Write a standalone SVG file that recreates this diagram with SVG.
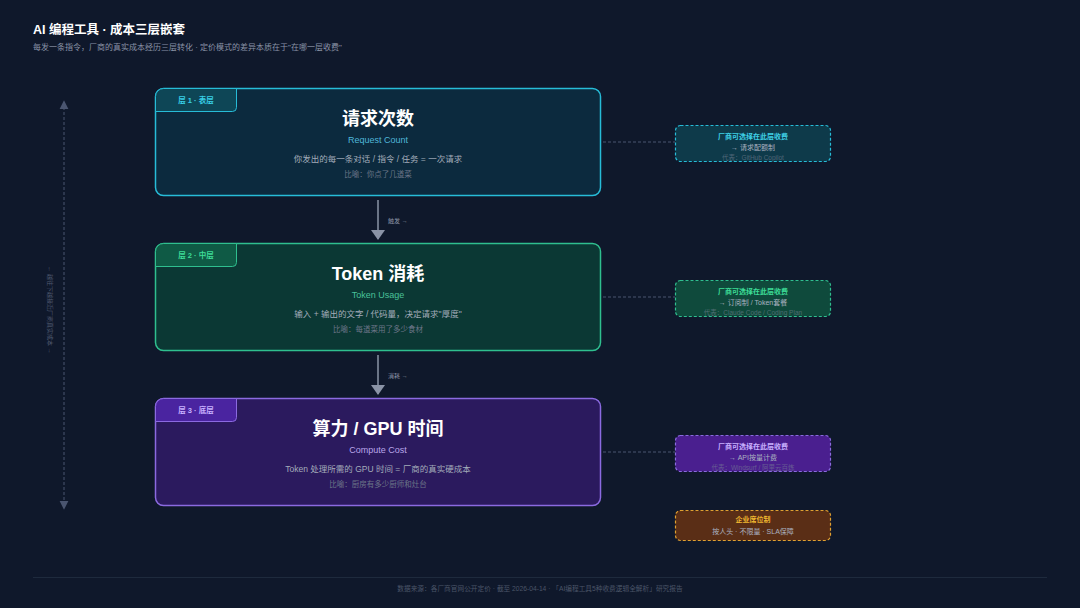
<svg xmlns="http://www.w3.org/2000/svg" width="1080" height="608" viewBox="0 0 1080 608">
<defs>
<marker id="ah2" viewBox="0 0 10 10" refX="8" refY="5" markerWidth="9" markerHeight="10" orient="auto-start-reverse" markerUnits="userSpaceOnUse">
<path d="M0,0 L10,5 L0,10 z" fill="#4a5570"/>
</marker>
<marker id="ah3" viewBox="0 0 10 10" refX="9" refY="5" markerWidth="10" markerHeight="14" orient="auto" markerUnits="userSpaceOnUse" preserveAspectRatio="none">
<path d="M0,0 L10,5 L0,10 z" fill="#8a93a6"/>
</marker>
</defs>
<style>
text{font-family:"Liberation Sans","Noto Sans CJK SC",sans-serif}
.t{font-size:18px;font-weight:bold;fill:#ffffff;text-anchor:middle}
.en{font-size:9px;text-anchor:middle}
.d{font-size:8.5px;fill:#a3acba;text-anchor:middle}
.m{font-size:7.5px;fill:#6b7588;text-anchor:middle}
.tag{font-size:7.5px;text-anchor:middle;font-weight:bold}
.rh{font-size:7px;font-weight:bold;text-anchor:middle}
.rs{font-size:7px;fill:#aab2c0;text-anchor:middle}
.rr{font-size:6.5px;fill:#7a8496;text-anchor:middle;opacity:0.6}
.lbl{font-size:6px;fill:#8a93a6}
.dash{stroke-dasharray:3 2;stroke-width:1.2}
</style>
<rect width="1080" height="608" fill="#0f182b"/>
<text x="33" y="34" font-size="12.5" font-weight="bold" fill="#ffffff">AI 编程工具 · 成本三层嵌套</text>
<text x="33" y="50" font-size="8" fill="#8a93a6">每发一条指令，厂商的真实成本经历三层转化 · 定价模式的差异本质在于"在哪一层收费"</text>

<g id="axis">
<line x1="64" y1="102" x2="64" y2="508" stroke="#4a5570" stroke-width="1" stroke-dasharray="3 2" marker-start="url(#ah2)" marker-end="url(#ah2)"/>
<text x="48" y="310" font-size="6" fill="#4f5a70" text-anchor="middle" transform="rotate(90 48 310)">← 越往下越接近厂商真实成本 →</text>
</g>

<g id="connectors">
<line x1="378" y1="200" x2="378" y2="239" stroke="#8a93a6" stroke-width="1.5" marker-end="url(#ah3)"/>
<text class="lbl" x="388" y="223">触发 →</text>
<line x1="378" y1="355" x2="378" y2="394" stroke="#8a93a6" stroke-width="1.5" marker-end="url(#ah3)"/>
<text class="lbl" x="388" y="378">消耗 →</text>
<line x1="603" y1="142" x2="675" y2="142" stroke="#4a5570" stroke-dasharray="3 2"/>
<line x1="603" y1="297" x2="675" y2="297" stroke="#4a5570" stroke-dasharray="3 2"/>
<line x1="603" y1="452" x2="675" y2="452" stroke="#4a5570" stroke-dasharray="3 2"/>
</g>

<g id="layer1">
<rect x="155.5" y="88.5" width="445" height="107" rx="8" fill="#0c2a3e" stroke="#27bcd8" stroke-width="1.5"/>
<path d="M155.5,111.5 V96.5 a8,8 0 0 1 8,-8 H236.5 V107.5 a4,4 0 0 1 -4,4 Z" fill="#0e4656" stroke="#27bcd8" stroke-width="1"/>
<text class="tag" x="196" y="103" fill="#38cfe6">层 1 · 表层</text>
<text class="t" x="378" y="125">请求次数</text>
<text class="en" x="378" y="143" fill="#4fb6d8">Request Count</text>
<text class="d" x="378" y="162">你发出的每一条对话 / 指令 / 任务 = 一次请求</text>
<text class="m" x="378" y="177">比喻：你点了几道菜</text>
</g>

<g id="layer2">
<rect x="155.5" y="243.5" width="445" height="107" rx="8" fill="#0b3834" stroke="#2fbf8f" stroke-width="1.5"/>
<path d="M155.5,266.5 V251.5 a8,8 0 0 1 8,-8 H236.5 V262.5 a4,4 0 0 1 -4,4 Z" fill="#0f5a45" stroke="#2fbf8f" stroke-width="1"/>
<text class="tag" x="196" y="258" fill="#3ddc97">层 2 · 中层</text>
<text class="t" x="378" y="280">Token 消耗</text>
<text class="en" x="378" y="298" fill="#49c199">Token Usage</text>
<text class="d" x="378" y="317">输入 + 输出的文字 / 代码量，决定请求"厚度"</text>
<text class="m" x="378" y="332">比喻：每道菜用了多少食材</text>
</g>

<g id="layer3">
<rect x="155.5" y="398.5" width="445" height="107" rx="8" fill="#2b1a5e" stroke="#8b6ae0" stroke-width="1.5"/>
<path d="M155.5,421.5 V406.5 a8,8 0 0 1 8,-8 H236.5 V417.5 a4,4 0 0 1 -4,4 Z" fill="#4a24a0" stroke="#8b6ae0" stroke-width="1"/>
<text class="tag" x="196" y="413" fill="#c8b0ff">层 3 · 底层</text>
<text class="t" x="378" y="435">算力 / GPU 时间</text>
<text class="en" x="378" y="453" fill="#b9a6ea">Compute Cost</text>
<text class="d" x="378" y="472">Token 处理所需的 GPU 时间 = 厂商的真实硬成本</text>
<text class="m" x="378" y="487">比喻：厨房有多少厨师和灶台</text>
</g>

<g id="charge1">
<rect class="dash" x="675.5" y="125.5" width="155" height="36" rx="5" fill="#0e3a4a" stroke="#27bcd8"/>
<text class="rh" x="753" y="139" fill="#3fd0e6">厂商可选择在此层收费</text>
<text class="rs" x="753" y="150">→ 请求配额制</text>
<text class="rr" x="753" y="160">代表：GitHub Copilot</text>
</g>
<g id="charge2">
<rect class="dash" x="675.5" y="280.5" width="155" height="36" rx="5" fill="#0f4a3c" stroke="#2fbf8f"/>
<text class="rh" x="753" y="294" fill="#3ddc97">厂商可选择在此层收费</text>
<text class="rs" x="753" y="305">→ 订阅制 / Token套餐</text>
<text class="rr" x="753" y="315">代表：Claude Code / Coding Plan</text>
</g>
<g id="charge3">
<rect class="dash" x="675.5" y="435.5" width="155" height="36" rx="5" fill="#4a1f8f" stroke="#8b6ae0"/>
<text class="rh" x="753" y="449" fill="#c8b0ff">厂商可选择在此层收费</text>
<text class="rs" x="753" y="460">→ API按量计费</text>
<text class="rr" x="753" y="470">代表：Windsurf / 阿里云百炼</text>
</g>
<g id="seat">
<rect class="dash" x="675.5" y="510.5" width="155" height="30" rx="5" fill="#5a2e16" stroke="#e0a030"/>
<text class="rh" x="753" y="522" fill="#f0b830">企业席位制</text>
<text class="rs" x="753" y="534" fill="#c0b0a8">按人头 · 不限量 · SLA保障</text>
</g>

<line x1="33" y1="577.5" x2="1047" y2="577.5" stroke="#1e2a3d" stroke-width="1"/>
<text x="540" y="591" font-size="6.7" fill="#4b5568" text-anchor="middle">数据来源：各厂商官网公开定价 · 截至 2026-04-14 · 「AI编程工具5种收费逻辑全解析」研究报告</text>
</svg>
